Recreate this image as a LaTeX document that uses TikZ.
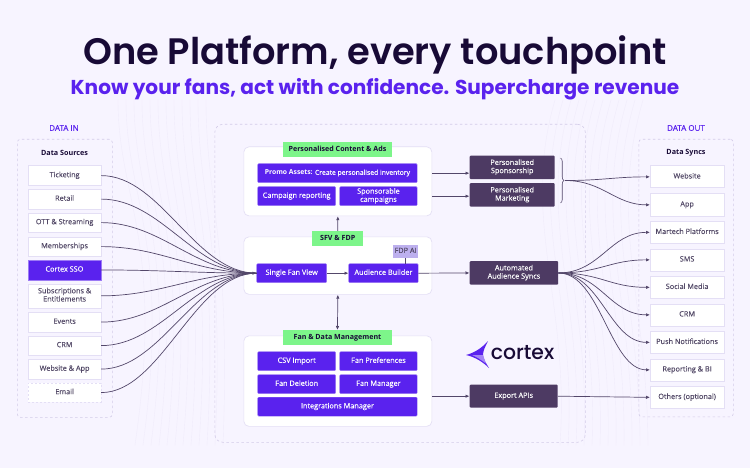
\documentclass[tikz,border=0pt]{standalone}
\usepackage{fontspec}
\setmainfont{Open Sans}[UprightFeatures={FakeBold=0.15}]
\newfontfamily\headfont{Poppins SemiBold}
\newfontfamily\subheadfont{Poppins}
\newfontfamily\logofont{Poppins Medium}
\usetikzlibrary{positioning}
\usetikzlibrary{decorations.pathreplacing}
\usetikzlibrary{arrows.meta}
\definecolor{pagebg}{HTML}{F7F4FF}
\definecolor{wavy}{HTML}{F0ECFB}
\definecolor{edgegrey}{HTML}{E4DFF5}
\definecolor{dashgrey}{HTML}{D3CCE8}
\definecolor{violet}{HTML}{5A22EE}
\definecolor{plum}{HTML}{4D3A63}
\definecolor{ink}{HTML}{180A36}
\definecolor{labelgrey}{HTML}{544A68}
\definecolor{linkgrey}{HTML}{53476A}
\definecolor{mint}{HTML}{7DF58A}
\definecolor{lilac}{HTML}{BDB0EE}
\tikzset{
	boxtext/.style={font=\fontsize{7.3}{8.2}\selectfont, align=center, anchor=north west, inner sep=0pt, execute at begin node=\strut, execute at end node=\strut},
	sourcenode/.style={boxtext, rectangle, draw=edgegrey, fill=white, line width=0.7pt, text=labelgrey},
	violetnode/.style={boxtext, rectangle, rounded corners=1pt, fill=violet, draw=violet!60!white, line width=0.4pt, text=white},
	plumnode/.style={boxtext, rectangle, rounded corners=1pt, fill=plum, text=white},
	greennode/.style={boxtext, rectangle, fill=mint, text=ink, font=\bfseries\fontsize{7.1}{8.2}\selectfont},
	panelnode/.style={rectangle, rounded corners=5pt, draw=edgegrey, fill=white, line width=0.7pt, anchor=north west, inner sep=0pt},
	dashnode/.style={rectangle, rounded corners=3pt, draw=dashgrey, dash pattern=on 2.5pt off 2.5pt, line width=0.6pt, anchor=north west, inner sep=0pt},
	link/.style={-{Latex[length=4pt,width=3.4pt]}, draw=linkgrey, line width=0.7pt}
}
% size a node from its pixel box
\newcommand{\boxat}[5]{\node[#1, minimum width=#4pt, minimum height=#5pt] at (#2,#3)}
\begin{document}
\begin{tikzpicture}[x=1pt,y=-1pt]
		\useasboundingbox (0,0) rectangle (750,468);
		\fill[pagebg] (0,0) rectangle (750,468);

		%Background
		\foreach \i in {0,...,11} {
			\draw[wavy, line width=0.4pt] ({118+8*\i},100) .. controls ({118+8*\i},200) and ({165+6*\i},240) .. ({135+8*\i},445);
			\draw[wavy, line width=0.4pt] ({555+8*\i},100) .. controls ({520+8*\i},220) and ({570+7*\i},300) .. ({560+8*\i},445);
		}

		%Titles
		\node[font=\headfont\fontsize{36.8}{40}\selectfont, text=ink] (title) at (375,54.5) {One Platform, every touchpoint};
		\node[font=\subheadfont\bfseries\fontsize{20.1}{24}\selectfont, text=violet] (subtitle) at (375,89.5) {Know your fans, act with confidence. Supercharge revenue};

		%Containers
		\boxat{dashnode}{17}{139}{95}{278} (inbox) {};
		\boxat{dashnode, rounded corners=8pt}{214.5}{124}{370.5}{318} (core) {};
		\boxat{dashnode}{638.5}{139}{94.5}{277.5} (outbox) {};
		\node[font=\fontsize{8}{9}\selectfont, text=violet] (datain) at (64,128) {DATA IN};
		\node[font=\fontsize{8}{9}\selectfont, text=violet] (dataout) at (686,128) {DATA OUT};
		\node[font=\bfseries\fontsize{7.2}{9}\selectfont, text=ink] (sources) at (64.5,152.5) {Data Sources};
		\node[font=\bfseries\fontsize{7.2}{9}\selectfont, text=ink] (syncs) at (686,152.5) {Data Syncs};

		%Data sources
		\boxat{sourcenode}{28}{165.5}{72.5}{19.5} (s1) {Ticketing};
		\boxat{sourcenode}{28}{189}{72.5}{19.5} (s2) {Retail};
		\boxat{sourcenode}{28}{212.5}{72.5}{19.5} (s3) {OTT \& Streaming};
		\boxat{sourcenode}{28}{236.5}{72.5}{19.5} (s4) {Memberships};
		\boxat{violetnode, rounded corners=0pt}{28}{260}{72.5}{19.5} (s5) {Cortex SSO};
		\boxat{sourcenode}{28}{283.5}{72.5}{24} (s6) {Subscriptions \&\\Entitlements};
		\boxat{sourcenode}{28}{312}{72.5}{19.5} (s7) {Events};
		\boxat{sourcenode}{28}{335.5}{72.5}{19.5} (s8) {CRM};
		\boxat{sourcenode}{28}{359}{72.5}{19.5} (s9) {Website \& App};
		\boxat{sourcenode, dash pattern=on 2pt off 2pt}{28}{382.5}{72.5}{19.5} (s10) {Email};

		%Panels
		\boxat{panelnode}{243.5}{146.5}{188}{69} (content) {};
		\boxat{panelnode}{243.5}{236.5}{188}{57.5} (sfv) {};
		\boxat{panelnode}{243.5}{335.5}{188}{90.5} (fan) {};
		\boxat{greennode}{283}{142}{108.5}{15} (contentlabel) {Personalised Content \& Ads};
		\boxat{greennode}{312}{231}{51}{14.5} (sfvlabel) {SFV \& FDP};
		\boxat{greennode}{283}{330}{108.5}{14.5} (fanlabel) {Fan \& Data Management};

		\boxat{violetnode, font=\fontsize{6.8}{8.2}\selectfont}{257.5}{163.5}{159.5}{19} (promo) {\textbf{Promo Assets:} Create personalised inventory};
		\boxat{violetnode}{257.5}{186.5}{78}{19} (campaign) {Campaign reporting};
		\boxat{violetnode}{339.5}{186.5}{77.5}{19} (sponsor) {Sponsorable\\campaigns};
		\boxat{violetnode}{256.5}{263.5}{70}{19} (view) {Single Fan View};
		\boxat{violetnode}{348.5}{263.5}{69.5}{19} (builder) {Audience Builder};
		\boxat{sourcenode, draw=none, fill=lilac}{392.5}{244.5}{25.5}{13} (ai) {FDP AI};
		\boxat{violetnode}{257.5}{351.5}{78}{19} (csv) {CSV Import};
		\boxat{violetnode}{339.5}{351.5}{77.5}{19} (prefs) {Fan Preferences};
		\boxat{violetnode}{257.5}{374.5}{78}{19} (deletion) {Fan Deletion};
		\boxat{violetnode}{339.5}{374.5}{77.5}{19} (manager) {Fan Manager};
		\boxat{violetnode}{257.5}{397}{159.5}{19} (integrations) {Integrations Manager};

		%Outputs
		\boxat{plumnode}{469.5}{155.5}{85}{23.5} (sponsorship) {Personalised\\Sponsorship};
		\boxat{plumnode}{469.5}{183}{85}{23.5} (marketing) {Personalised\\Marketing};
		\boxat{plumnode}{469.5}{261}{88.5}{23.5} (audience) {Automated\\Audience Syncs};
		\boxat{plumnode}{469.5}{384.5}{88}{23} (export) {Export APIs};

		%Data syncs
		\boxat{sourcenode}{650}{165.5}{73.5}{22} (o1) {Website};
		\boxat{sourcenode}{650}{193.5}{73.5}{22} (o2) {App};
		\boxat{sourcenode}{650}{221}{73.5}{22} (o3) {Martech Platforms};
		\boxat{sourcenode}{650}{248.5}{73.5}{22} (o4) {SMS};
		\boxat{sourcenode}{650}{276}{73.5}{22} (o5) {Social Media};
		\boxat{sourcenode}{650}{303.5}{73.5}{22} (o6) {CRM};
		\boxat{sourcenode}{650}{331}{73.5}{22} (o7) {Push Notifications};
		\boxat{sourcenode}{650}{358.5}{73.5}{22} (o8) {Reporting \& BI};
		\boxat{sourcenode}{650}{386}{73.5}{22} (o9) {Others (optional)};

		%Logo
		\fill[violet] (466,355) .. controls (474,353) and (482,348) .. (488,341) .. controls (485,347) and (483,351) .. (483,355) .. controls (483,359) and (486,363) .. (489,368) .. controls (483,362) and (475,357) .. cycle;
		\fill[violet!55!white] (472,355) -- (483,355) -- (486,363.5) .. controls (481,360) and (477,357) .. cycle;
		\node[font=\logofont\fontsize{20.4}{24}\selectfont, text=ink, inner sep=0pt] (logo) at (522.5,352.5) {cortex};

		%Lines
		\foreach \s in {s1,s2,s3,s4,s5,s6,s7,s8,s9,s10} {
			\draw[draw=linkgrey, line width=0.7pt] (\s.east) .. controls +(60,0) and (195,273) .. (view.west);
		}
		\draw[link] (240,273) -- (view.west);
		\draw[link] (view.east) -- (builder.west);
		\draw[draw=linkgrey, line width=0.7pt] (ai.south) -- (ai.south |- builder.north);
		\draw[link] (sfvlabel.north) -- (content.south);
		\draw[{Latex[length=4pt,width=3.4pt]}-{Latex[length=4pt,width=3.4pt]}, draw=linkgrey, line width=0.7pt] (sfv.south) -- (fanlabel.north);
		\draw[link] (content.east |- promo.east) -- (sponsorship.west |- promo.east);
		\draw[link] (content.east |- sponsor.east) -- (marketing.west |- sponsor.east);
		\draw[link] (builder.east) -- (audience.west);
		\draw[link] (fan.east |- export.west) -- (export.west);

		\draw[draw=linkgrey, line width=0.6pt, decorate, decoration={brace, amplitude=3.5pt}] (560.5,158) -- coordinate[pos=0.5, xshift=4.5pt] (tip) (560.5,203);
		\foreach \o in {o1,o2} {
			\draw[link] (tip) .. controls +(38,0) and +(-35,0) .. (\o.west);
		}
		\foreach \o in {o3,o4,o5,o6,o7,o8} {
			\draw[link] (audience.east) .. controls +(42,0) and +(-40,0) .. (\o.west);
		}
		\draw[link] (export.east) -- (o9.west);
	\end{tikzpicture}
\end{document}
